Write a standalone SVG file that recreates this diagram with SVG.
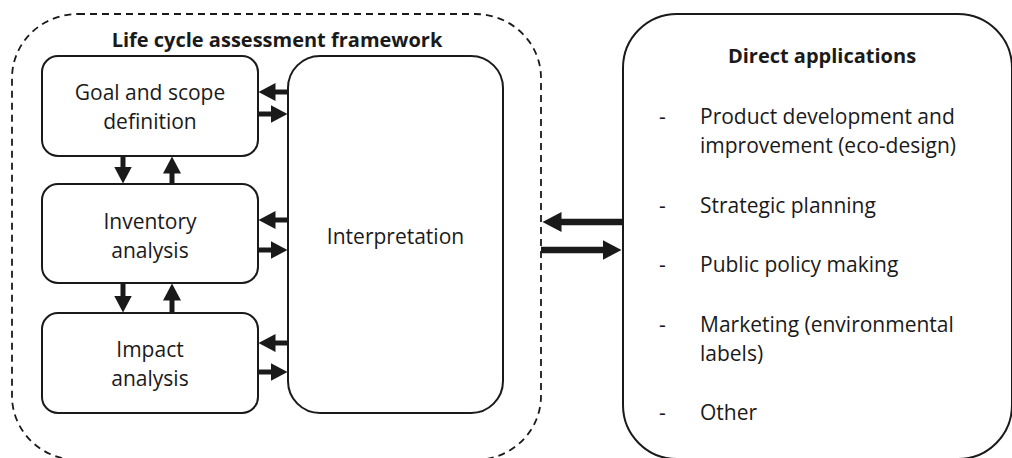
<svg xmlns="http://www.w3.org/2000/svg" width="1012" height="458" viewBox="0 0 1012 458">
  <style>
    .box { fill: #ffffff; stroke: #1a1a1a; stroke-width: 2; }
    .frame { fill: none; stroke: #1a1a1a; stroke-width: 1.8; stroke-dasharray: 7 5; }
    .txt { font-family: "Open Sans", "Liberation Sans", sans-serif; font-size: 21px; fill: #1a1a1a; }
    .mid { text-anchor: middle; }
    .title { font-family: "Open Sans", "Liberation Sans", sans-serif; font-size: 20px; font-weight: bold; fill: #1a1a1a; text-anchor: middle; }
    .flow { stroke: #1a1a1a; stroke-width: 5; fill: none; marker-end: url(#head); }
    .flow-big { stroke: #1a1a1a; stroke-width: 6.5; fill: none; marker-end: url(#head-big); }
  </style>
  <defs>
    <marker id="head" markerUnits="userSpaceOnUse" markerWidth="18" markerHeight="18" refX="0.5" refY="9" orient="auto">
      <path d="M0,0 L17,9 L0,18 Z" fill="#1a1a1a"/>
    </marker>
    <marker id="head-big" markerUnits="userSpaceOnUse" markerWidth="20" markerHeight="20" refX="0.5" refY="10" orient="auto">
      <path d="M0,0 L19,10 L0,20 Z" fill="#1a1a1a"/>
    </marker>
  </defs>

  <!-- dashed boundary of the assessment framework -->
  <g id="framework">
    <rect class="frame" x="12" y="14" width="529" height="446" rx="66" ry="64"/>
    <text class="title" x="277" y="47">Life cycle assessment framework</text>
  </g>

  <g id="goal">
    <rect class="box" x="42" y="56" width="216" height="100" rx="16"/>
    <text class="txt mid" x="150" y="100">Goal and scope</text>
    <text class="txt mid" x="150" y="129">definition</text>
  </g>

  <g id="inventory">
    <rect class="box" x="42" y="184" width="216" height="99" rx="16"/>
    <text class="txt mid" x="150" y="229">Inventory</text>
    <text class="txt mid" x="150" y="258">analysis</text>
  </g>

  <g id="impact">
    <rect class="box" x="42" y="313" width="216" height="100" rx="16"/>
    <text class="txt mid" x="150" y="357">Impact</text>
    <text class="txt mid" x="150" y="386">analysis</text>
  </g>

  <g id="interpretation">
    <rect class="box" x="288" y="56" width="215" height="357" rx="32"/>
    <text class="txt mid" x="395.5" y="244">Interpretation</text>
  </g>

  <g id="applications">
    <rect class="box" x="623" y="14" width="389" height="445" rx="54"/>
    <text class="title" x="822" y="63">Direct applications</text>
    <text class="txt" x="659" y="124">-</text>
    <text class="txt" x="700" y="124">Product development and</text>
    <text class="txt" x="700" y="153">improvement (eco-design)</text>
    <text class="txt" x="659" y="213">-</text>
    <text class="txt" x="700" y="213">Strategic planning</text>
    <text class="txt" x="659" y="272">-</text>
    <text class="txt" x="700" y="272">Public policy making</text>
    <text class="txt" x="659" y="332">-</text>
    <text class="txt" x="700" y="332">Marketing (environmental</text>
    <text class="txt" x="700" y="361">labels)</text>
    <text class="txt" x="659" y="420">-</text>
    <text class="txt" x="700" y="420">Other</text>
  </g>

  <!-- connectors -->
  <g id="connectors">
    <!-- phases <-> interpretation -->
    <line class="flow" x1="288" y1="92" x2="275" y2="92"/>
    <line class="flow" x1="258" y1="114" x2="271" y2="114"/>
    <line class="flow" x1="288" y1="220" x2="275" y2="220"/>
    <line class="flow" x1="258" y1="250" x2="271" y2="250"/>
    <line class="flow" x1="288" y1="343" x2="275" y2="343"/>
    <line class="flow" x1="258" y1="372" x2="271" y2="372"/>
    <!-- goal <-> inventory -->
    <line class="flow" x1="123" y1="156" x2="123" y2="167"/>
    <line class="flow" x1="172" y1="184" x2="172" y2="173"/>
    <!-- inventory <-> impact -->
    <line class="flow" x1="123" y1="283" x2="123" y2="296"/>
    <line class="flow" x1="172" y1="313" x2="172" y2="300"/>
    <!-- framework <-> applications -->
    <line class="flow-big" x1="623" y1="222" x2="561" y2="222"/>
    <line class="flow-big" x1="541" y1="250" x2="603" y2="250"/>
  </g>
</svg>
